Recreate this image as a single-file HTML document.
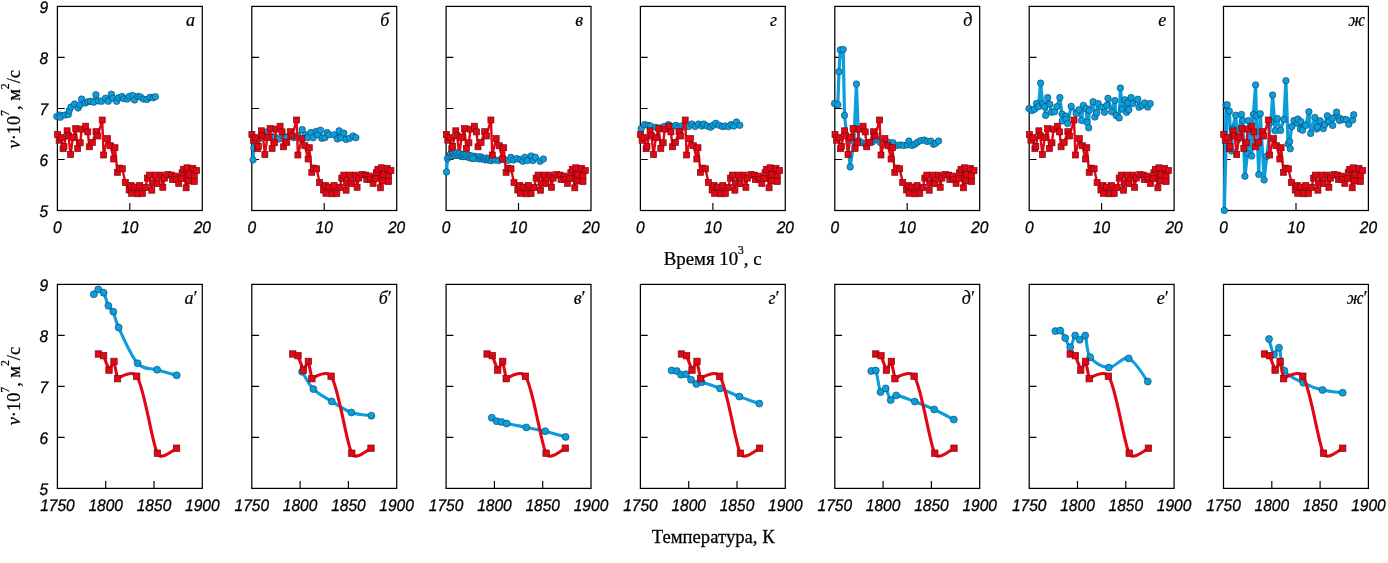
<!DOCTYPE html>
<html lang="ru"><head><meta charset="utf-8"><title>Chart</title>
<style>
html,body{margin:0;padding:0;background:#fff}
body{width:1388px;height:563px;overflow:hidden}
svg{display:block}
svg{will-change:transform}
.t{font-family:"Liberation Sans",sans-serif;font-style:italic;font-size:16.8px;fill:#000;stroke:#000;stroke-width:.3px;text-rendering:geometricPrecision}
.p{font-family:"Liberation Serif",serif;font-style:italic;font-size:18px;fill:#000;stroke:#000;stroke-width:.22px}
.a{font-family:"Liberation Serif",serif;font-size:19.7px;fill:#000;stroke:#000;stroke-width:.25px}
.y{font-family:"Liberation Serif",serif;font-size:18px;fill:#000;stroke:#000;stroke-width:.25px}
</style></head><body>
<svg width="1388" height="563" viewBox="0 0 1388 563">
<rect width="1388" height="563" fill="#fff"/>
<g><rect x="57.4" y="6.4" width="144.9" height="204.1" fill="none" stroke="#000" stroke-width="1.25"/><path d="M57.4,57.4h7.3M57.4,108.5h7.3M57.4,159.5h7.3M129.8,210.5v-7.5" stroke="#000" stroke-width="1.15" fill="none"/><polyline fill="none" stroke="#0c9edc" stroke-width="3.2" stroke-linejoin="round" points="56.8,116.4 59.9,115.1 60.3,117.3 64.8,115.1 68.3,114.6 69.2,110.6 71,107.1 74.5,104 78.1,108 79.9,104.9 81.6,99.1 85.2,103.1 87.9,101.8 90.5,101.3 93.6,102.2 95.9,94.7 98.5,100.9 101.6,101.3 105.6,98.2 108.3,101.3 111.4,94.2 112.7,98.2 116.7,101.3 118.5,97.8 122,96.4 123.8,98.7 127.4,99.1 129.2,96.4 132.7,95.5 134.5,100 138,96.4 140.3,96.9 143.4,99.1 146.9,99.5 150,97.3 153.1,97.8 155.4,96.7"/><g fill="#0c9edc" stroke="#06425f" stroke-width="0.6"><circle cx="56.8" cy="116.4" r="3.25"/><circle cx="59.9" cy="115.1" r="3.25"/><circle cx="60.3" cy="117.3" r="3.25"/><circle cx="64.8" cy="115.1" r="3.25"/><circle cx="68.3" cy="114.6" r="3.25"/><circle cx="69.2" cy="110.6" r="3.25"/><circle cx="71" cy="107.1" r="3.25"/><circle cx="74.5" cy="104" r="3.25"/><circle cx="78.1" cy="108" r="3.25"/><circle cx="79.9" cy="104.9" r="3.25"/><circle cx="81.6" cy="99.1" r="3.25"/><circle cx="85.2" cy="103.1" r="3.25"/><circle cx="87.9" cy="101.8" r="3.25"/><circle cx="90.5" cy="101.3" r="3.25"/><circle cx="93.6" cy="102.2" r="3.25"/><circle cx="95.9" cy="94.7" r="3.25"/><circle cx="98.5" cy="100.9" r="3.25"/><circle cx="101.6" cy="101.3" r="3.25"/><circle cx="105.6" cy="98.2" r="3.25"/><circle cx="108.3" cy="101.3" r="3.25"/><circle cx="111.4" cy="94.2" r="3.25"/><circle cx="112.7" cy="98.2" r="3.25"/><circle cx="116.7" cy="101.3" r="3.25"/><circle cx="118.5" cy="97.8" r="3.25"/><circle cx="122" cy="96.4" r="3.25"/><circle cx="123.8" cy="98.7" r="3.25"/><circle cx="127.4" cy="99.1" r="3.25"/><circle cx="129.2" cy="96.4" r="3.25"/><circle cx="132.7" cy="95.5" r="3.25"/><circle cx="134.5" cy="100" r="3.25"/><circle cx="138" cy="96.4" r="3.25"/><circle cx="140.3" cy="96.9" r="3.25"/><circle cx="143.4" cy="99.1" r="3.25"/><circle cx="146.9" cy="99.5" r="3.25"/><circle cx="150" cy="97.3" r="3.25"/><circle cx="153.1" cy="97.8" r="3.25"/><circle cx="155.4" cy="96.7" r="3.25"/></g><polyline fill="none" stroke="#e30613" stroke-width="2.4" stroke-linejoin="round" points="57.6,134.4 59.1,140.2 61.3,137.5 63.1,148.7 64,146.4 67.1,130.8 68.4,135.7 70.6,154.6 72.9,137.5 75.7,128.6 77.7,148.4 80.2,142.8 81.7,129.1 85.7,126.2 87.8,131.9 89.3,146.8 92.4,142.4 96,131.7 97.7,136 102.2,120 103.6,155 107.5,138.6 110.5,145.7 113.7,159 115,147.7 117.4,172.3 119.3,168.1 122.3,168.8 125.3,182.5 129.1,190 131.1,185.5 131.6,193.3 134.4,187 137.7,193.8 139.7,185.5 142.4,193.5 145.4,187.5 147.4,178.1 149.4,175.1 151.8,190.2 152.3,182.9 155.3,175.1 157.2,183.6 161.1,175.1 162.8,187.3 164.5,178.1 168,174.6 171.4,175.1 172.4,179.5 175.3,176.1 176.3,179.5 178.7,183.4 181.1,178.5 182.1,172.7 183.6,169.3 186.1,187.8 187,167.8 188.5,181 189,174.6 192.9,168.3 194.3,181.5 194.3,175.6 196.6,170.5"/><g fill="#e30613" stroke="#7a0a10" stroke-width="0.7"><rect x="54.6" y="131.4" width="6.0" height="6.0"/><rect x="56.1" y="137.2" width="6.0" height="6.0"/><rect x="58.3" y="134.5" width="6.0" height="6.0"/><rect x="60.1" y="145.7" width="6.0" height="6.0"/><rect x="61" y="143.4" width="6.0" height="6.0"/><rect x="64.1" y="127.8" width="6.0" height="6.0"/><rect x="65.4" y="132.7" width="6.0" height="6.0"/><rect x="67.6" y="151.6" width="6.0" height="6.0"/><rect x="69.9" y="134.5" width="6.0" height="6.0"/><rect x="72.7" y="125.6" width="6.0" height="6.0"/><rect x="74.7" y="145.4" width="6.0" height="6.0"/><rect x="77.2" y="139.8" width="6.0" height="6.0"/><rect x="78.7" y="126.1" width="6.0" height="6.0"/><rect x="82.7" y="123.2" width="6.0" height="6.0"/><rect x="84.8" y="128.9" width="6.0" height="6.0"/><rect x="86.3" y="143.8" width="6.0" height="6.0"/><rect x="89.4" y="139.4" width="6.0" height="6.0"/><rect x="93" y="128.7" width="6.0" height="6.0"/><rect x="94.7" y="133" width="6.0" height="6.0"/><rect x="99.2" y="117" width="6.0" height="6.0"/><rect x="100.6" y="152" width="6.0" height="6.0"/><rect x="104.5" y="135.6" width="6.0" height="6.0"/><rect x="107.5" y="142.7" width="6.0" height="6.0"/><rect x="110.7" y="156" width="6.0" height="6.0"/><rect x="112" y="144.7" width="6.0" height="6.0"/><rect x="114.4" y="169.3" width="6.0" height="6.0"/><rect x="116.3" y="165.1" width="6.0" height="6.0"/><rect x="119.3" y="165.8" width="6.0" height="6.0"/><rect x="122.3" y="179.5" width="6.0" height="6.0"/><rect x="126.1" y="187" width="6.0" height="6.0"/><rect x="128.1" y="182.5" width="6.0" height="6.0"/><rect x="128.6" y="190.3" width="6.0" height="6.0"/><rect x="131.4" y="184" width="6.0" height="6.0"/><rect x="134.7" y="190.8" width="6.0" height="6.0"/><rect x="136.7" y="182.5" width="6.0" height="6.0"/><rect x="139.4" y="190.5" width="6.0" height="6.0"/><rect x="142.4" y="184.5" width="6.0" height="6.0"/><rect x="144.4" y="175.1" width="6.0" height="6.0"/><rect x="146.4" y="172.1" width="6.0" height="6.0"/><rect x="148.8" y="187.2" width="6.0" height="6.0"/><rect x="149.3" y="179.9" width="6.0" height="6.0"/><rect x="152.3" y="172.1" width="6.0" height="6.0"/><rect x="154.2" y="180.6" width="6.0" height="6.0"/><rect x="158.1" y="172.1" width="6.0" height="6.0"/><rect x="159.8" y="184.3" width="6.0" height="6.0"/><rect x="161.5" y="175.1" width="6.0" height="6.0"/><rect x="165" y="171.6" width="6.0" height="6.0"/><rect x="168.4" y="172.1" width="6.0" height="6.0"/><rect x="169.4" y="176.5" width="6.0" height="6.0"/><rect x="172.3" y="173.1" width="6.0" height="6.0"/><rect x="173.3" y="176.5" width="6.0" height="6.0"/><rect x="175.7" y="180.4" width="6.0" height="6.0"/><rect x="178.1" y="175.5" width="6.0" height="6.0"/><rect x="179.1" y="169.7" width="6.0" height="6.0"/><rect x="180.6" y="166.3" width="6.0" height="6.0"/><rect x="183.1" y="184.8" width="6.0" height="6.0"/><rect x="184" y="164.8" width="6.0" height="6.0"/><rect x="185.5" y="178" width="6.0" height="6.0"/><rect x="186" y="171.6" width="6.0" height="6.0"/><rect x="189.9" y="165.3" width="6.0" height="6.0"/><rect x="191.3" y="178.5" width="6.0" height="6.0"/><rect x="191.3" y="172.6" width="6.0" height="6.0"/><rect x="193.6" y="167.5" width="6.0" height="6.0"/></g><text class="t" transform="translate(57.4,233.3) scale(0.925,1)" text-anchor="middle">0</text><text class="t" transform="translate(129.8,233.3) scale(0.925,1)" text-anchor="middle">10</text><text class="t" transform="translate(202.3,233.3) scale(0.925,1)" text-anchor="middle">20</text><text class="p" x="190.4" y="26.2" text-anchor="middle">а</text></g>
<g><rect x="57.4" y="284.4" width="144.9" height="204" fill="none" stroke="#000" stroke-width="1.25"/><path d="M57.4,335.4h7.3M57.4,386.4h7.3M57.4,437.4h7.3M105.7,488.4v-7.5M154,488.4v-7.5" stroke="#000" stroke-width="1.15" fill="none"/><path fill="none" stroke="#0c9edc" stroke-width="3.1" stroke-linecap="round" d="M93.8,294.3C94.5,293.5 96.7,289.7 98.3,289.4C99.9,289.1 101.9,290 103.6,292.7C105.3,295.4 106.8,302.6 108.4,305.8C110,309 111.6,308.1 113.3,311.7C115,315.3 114.5,318.9 118.6,327.5C122.6,336.1 131.2,356.3 137.6,363.3C144,370.3 150.6,367.7 157.1,369.7C163.6,371.7 173.4,374.4 176.7,375.3"/><g fill="#0c9edc" stroke="#06425f" stroke-width="0.6"><circle cx="93.8" cy="294.3" r="3.5"/><circle cx="98.3" cy="289.4" r="3.5"/><circle cx="103.6" cy="292.7" r="3.5"/><circle cx="108.4" cy="305.8" r="3.5"/><circle cx="113.3" cy="311.7" r="3.5"/><circle cx="118.6" cy="327.5" r="3.5"/><circle cx="137.6" cy="363.3" r="3.5"/><circle cx="157.1" cy="369.7" r="3.5"/><circle cx="176.7" cy="375.3" r="3.5"/></g><path fill="none" stroke="#e30613" stroke-width="3.1" stroke-linejoin="round" stroke-linecap="round" d="M98.4,354L103.6,355.7L109,370.1L114,361.4L117.5,378.7C125.4,373.5 133.9,371.3 136.7,376.2C143.9,385 152.9,447 157.4,453.2C159.9,459.5 167.4,454.5 176.6,448.2"/><g fill="#e30613" stroke="#7a0a10" stroke-width="0.7"><rect x="95.2" y="350.8" width="6.4" height="6.4"/><rect x="100.4" y="352.5" width="6.4" height="6.4"/><rect x="105.8" y="366.9" width="6.4" height="6.4"/><rect x="110.8" y="358.2" width="6.4" height="6.4"/><rect x="114.3" y="375.5" width="6.4" height="6.4"/><rect x="133.5" y="373" width="6.4" height="6.4"/><rect x="154.2" y="450" width="6.4" height="6.4"/><rect x="173.4" y="445" width="6.4" height="6.4"/></g><text class="t" transform="translate(57.4,510.9) scale(0.925,1)" text-anchor="middle">1750</text><text class="t" transform="translate(105.7,510.9) scale(0.925,1)" text-anchor="middle">1800</text><text class="t" transform="translate(154,510.9) scale(0.925,1)" text-anchor="middle">1850</text><text class="t" transform="translate(202.3,510.9) scale(0.925,1)" text-anchor="middle">1900</text><text class="p" x="190.4" y="304.2" text-anchor="middle">а<tspan dx="-1">′</tspan></text></g>
<g><rect x="251.8" y="6.4" width="144.9" height="204.1" fill="none" stroke="#000" stroke-width="1.25"/><path d="M251.8,57.4h7.3M251.8,108.5h7.3M251.8,159.5h7.3M324.2,210.5v-7.5" stroke="#000" stroke-width="1.15" fill="none"/><polyline fill="none" stroke="#0c9edc" stroke-width="3.2" stroke-linejoin="round" points="253.1,159.9 253.8,148 255.9,142 258.9,139 261.9,137 266.9,132 270.9,136 274.9,137 279.1,138.9 282.9,136 286.9,137 290.9,136 293.9,137.7 297.9,136 302.2,129.6 305.6,134.8 307.4,137.7 310.9,132.5 313.2,137.7 316.1,131.4 317.8,134.8 320.4,130.2 321.8,138.3 324.8,137.7 327.1,132.5 328.8,134.8 333.9,134.8 337.4,138.9 339.1,130.8 340.9,137.7 343.8,133.1 346.1,139.5 349.6,138.3 353.1,136 355.9,137.7"/><g fill="#0c9edc" stroke="#06425f" stroke-width="0.6"><circle cx="253.1" cy="159.9" r="3.25"/><circle cx="253.8" cy="148" r="3.25"/><circle cx="255.9" cy="142" r="3.25"/><circle cx="258.9" cy="139" r="3.25"/><circle cx="261.9" cy="137" r="3.25"/><circle cx="266.9" cy="132" r="3.25"/><circle cx="270.9" cy="136" r="3.25"/><circle cx="274.9" cy="137" r="3.25"/><circle cx="279.1" cy="138.9" r="3.25"/><circle cx="282.9" cy="136" r="3.25"/><circle cx="286.9" cy="137" r="3.25"/><circle cx="290.9" cy="136" r="3.25"/><circle cx="293.9" cy="137.7" r="3.25"/><circle cx="297.9" cy="136" r="3.25"/><circle cx="302.2" cy="129.6" r="3.25"/><circle cx="305.6" cy="134.8" r="3.25"/><circle cx="307.4" cy="137.7" r="3.25"/><circle cx="310.9" cy="132.5" r="3.25"/><circle cx="313.2" cy="137.7" r="3.25"/><circle cx="316.1" cy="131.4" r="3.25"/><circle cx="317.8" cy="134.8" r="3.25"/><circle cx="320.4" cy="130.2" r="3.25"/><circle cx="321.8" cy="138.3" r="3.25"/><circle cx="324.8" cy="137.7" r="3.25"/><circle cx="327.1" cy="132.5" r="3.25"/><circle cx="328.8" cy="134.8" r="3.25"/><circle cx="333.9" cy="134.8" r="3.25"/><circle cx="337.4" cy="138.9" r="3.25"/><circle cx="339.1" cy="130.8" r="3.25"/><circle cx="340.9" cy="137.7" r="3.25"/><circle cx="343.8" cy="133.1" r="3.25"/><circle cx="346.1" cy="139.5" r="3.25"/><circle cx="349.6" cy="138.3" r="3.25"/><circle cx="353.1" cy="136" r="3.25"/><circle cx="355.9" cy="137.7" r="3.25"/></g><polyline fill="none" stroke="#e30613" stroke-width="2.4" stroke-linejoin="round" points="251.9,134.4 253.4,140.2 255.6,137.5 257.4,148.7 258.3,146.4 261.4,130.8 262.8,135.7 264.9,154.6 267.2,137.5 270.1,128.6 272.1,148.4 274.6,142.8 276.1,129.1 280.1,126.2 282.1,131.9 283.6,146.8 286.8,142.4 290.3,131.7 292.1,136 296.6,120 297.9,155 301.8,138.6 304.8,145.7 308.1,159 309.3,147.7 311.8,172.3 313.6,168.1 316.6,168.8 319.6,182.5 323.4,190 325.4,185.5 325.9,193.3 328.8,187 332.1,193.8 334.1,185.5 336.8,193.5 339.8,187.5 341.8,178.1 343.8,175.1 346.1,190.2 346.6,182.9 349.6,175.1 351.6,183.6 355.4,175.1 357.1,187.3 358.8,178.1 362.3,174.6 365.8,175.1 366.8,179.5 369.6,176.1 370.6,179.5 373.1,183.4 375.4,178.5 376.4,172.7 377.9,169.3 380.4,187.8 381.3,167.8 382.8,181 383.3,174.6 387.2,168.3 388.6,181.5 388.6,175.6 390.9,170.5"/><g fill="#e30613" stroke="#7a0a10" stroke-width="0.7"><rect x="248.9" y="131.4" width="6.0" height="6.0"/><rect x="250.4" y="137.2" width="6.0" height="6.0"/><rect x="252.6" y="134.5" width="6.0" height="6.0"/><rect x="254.4" y="145.7" width="6.0" height="6.0"/><rect x="255.3" y="143.4" width="6.0" height="6.0"/><rect x="258.4" y="127.8" width="6.0" height="6.0"/><rect x="259.8" y="132.7" width="6.0" height="6.0"/><rect x="261.9" y="151.6" width="6.0" height="6.0"/><rect x="264.2" y="134.5" width="6.0" height="6.0"/><rect x="267.1" y="125.6" width="6.0" height="6.0"/><rect x="269.1" y="145.4" width="6.0" height="6.0"/><rect x="271.6" y="139.8" width="6.0" height="6.0"/><rect x="273.1" y="126.1" width="6.0" height="6.0"/><rect x="277.1" y="123.2" width="6.0" height="6.0"/><rect x="279.1" y="128.9" width="6.0" height="6.0"/><rect x="280.6" y="143.8" width="6.0" height="6.0"/><rect x="283.8" y="139.4" width="6.0" height="6.0"/><rect x="287.3" y="128.7" width="6.0" height="6.0"/><rect x="289.1" y="133" width="6.0" height="6.0"/><rect x="293.6" y="117" width="6.0" height="6.0"/><rect x="294.9" y="152" width="6.0" height="6.0"/><rect x="298.8" y="135.6" width="6.0" height="6.0"/><rect x="301.8" y="142.7" width="6.0" height="6.0"/><rect x="305.1" y="156" width="6.0" height="6.0"/><rect x="306.3" y="144.7" width="6.0" height="6.0"/><rect x="308.8" y="169.3" width="6.0" height="6.0"/><rect x="310.6" y="165.1" width="6.0" height="6.0"/><rect x="313.6" y="165.8" width="6.0" height="6.0"/><rect x="316.6" y="179.5" width="6.0" height="6.0"/><rect x="320.4" y="187" width="6.0" height="6.0"/><rect x="322.4" y="182.5" width="6.0" height="6.0"/><rect x="322.9" y="190.3" width="6.0" height="6.0"/><rect x="325.8" y="184" width="6.0" height="6.0"/><rect x="329.1" y="190.8" width="6.0" height="6.0"/><rect x="331.1" y="182.5" width="6.0" height="6.0"/><rect x="333.8" y="190.5" width="6.0" height="6.0"/><rect x="336.8" y="184.5" width="6.0" height="6.0"/><rect x="338.8" y="175.1" width="6.0" height="6.0"/><rect x="340.8" y="172.1" width="6.0" height="6.0"/><rect x="343.1" y="187.2" width="6.0" height="6.0"/><rect x="343.6" y="179.9" width="6.0" height="6.0"/><rect x="346.6" y="172.1" width="6.0" height="6.0"/><rect x="348.6" y="180.6" width="6.0" height="6.0"/><rect x="352.4" y="172.1" width="6.0" height="6.0"/><rect x="354.1" y="184.3" width="6.0" height="6.0"/><rect x="355.8" y="175.1" width="6.0" height="6.0"/><rect x="359.3" y="171.6" width="6.0" height="6.0"/><rect x="362.8" y="172.1" width="6.0" height="6.0"/><rect x="363.8" y="176.5" width="6.0" height="6.0"/><rect x="366.6" y="173.1" width="6.0" height="6.0"/><rect x="367.6" y="176.5" width="6.0" height="6.0"/><rect x="370.1" y="180.4" width="6.0" height="6.0"/><rect x="372.4" y="175.5" width="6.0" height="6.0"/><rect x="373.4" y="169.7" width="6.0" height="6.0"/><rect x="374.9" y="166.3" width="6.0" height="6.0"/><rect x="377.4" y="184.8" width="6.0" height="6.0"/><rect x="378.3" y="164.8" width="6.0" height="6.0"/><rect x="379.8" y="178" width="6.0" height="6.0"/><rect x="380.3" y="171.6" width="6.0" height="6.0"/><rect x="384.2" y="165.3" width="6.0" height="6.0"/><rect x="385.6" y="178.5" width="6.0" height="6.0"/><rect x="385.6" y="172.6" width="6.0" height="6.0"/><rect x="387.9" y="167.5" width="6.0" height="6.0"/></g><text class="t" transform="translate(251.8,233.3) scale(0.925,1)" text-anchor="middle">0</text><text class="t" transform="translate(324.2,233.3) scale(0.925,1)" text-anchor="middle">10</text><text class="t" transform="translate(396.6,233.3) scale(0.925,1)" text-anchor="middle">20</text><text class="p" x="384.8" y="26.2" text-anchor="middle">б</text></g>
<g><rect x="251.8" y="284.4" width="144.9" height="204" fill="none" stroke="#000" stroke-width="1.25"/><path d="M251.8,335.4h7.3M251.8,386.4h7.3M251.8,437.4h7.3M300.1,488.4v-7.5M348.4,488.4v-7.5" stroke="#000" stroke-width="1.15" fill="none"/><path fill="none" stroke="#0c9edc" stroke-width="3.1" stroke-linecap="round" d="M302.1,371.7C304,374.6 308.4,384.1 313.4,389.1C318.3,394.1 325.4,397.6 331.8,401.5C338.1,405.4 344.8,410.1 351.4,412.5C358.1,414.9 368,415.2 371.4,415.7"/><g fill="#0c9edc" stroke="#06425f" stroke-width="0.6"><circle cx="302.1" cy="371.7" r="3.5"/><circle cx="313.4" cy="389.1" r="3.5"/><circle cx="331.8" cy="401.5" r="3.5"/><circle cx="351.4" cy="412.5" r="3.5"/><circle cx="371.4" cy="415.7" r="3.5"/></g><path fill="none" stroke="#e30613" stroke-width="3.1" stroke-linejoin="round" stroke-linecap="round" d="M292.8,354L297.9,355.7L303.4,370.1L308.4,361.4L311.9,378.7C319.8,373.5 328.2,371.3 331.1,376.2C338.2,385 347.2,447 351.8,453.2C354.2,459.5 361.8,454.5 370.9,448.2"/><g fill="#e30613" stroke="#7a0a10" stroke-width="0.7"><rect x="289.6" y="350.8" width="6.4" height="6.4"/><rect x="294.8" y="352.5" width="6.4" height="6.4"/><rect x="300.2" y="366.9" width="6.4" height="6.4"/><rect x="305.2" y="358.2" width="6.4" height="6.4"/><rect x="308.7" y="375.5" width="6.4" height="6.4"/><rect x="327.9" y="373" width="6.4" height="6.4"/><rect x="348.6" y="450" width="6.4" height="6.4"/><rect x="367.8" y="445" width="6.4" height="6.4"/></g><text class="t" transform="translate(251.8,510.9) scale(0.925,1)" text-anchor="middle">1750</text><text class="t" transform="translate(300.1,510.9) scale(0.925,1)" text-anchor="middle">1800</text><text class="t" transform="translate(348.4,510.9) scale(0.925,1)" text-anchor="middle">1850</text><text class="t" transform="translate(396.6,510.9) scale(0.925,1)" text-anchor="middle">1900</text><text class="p" x="384.8" y="304.2" text-anchor="middle">б<tspan dx="-1">′</tspan></text></g>
<g><rect x="446.1" y="6.4" width="144.9" height="204.1" fill="none" stroke="#000" stroke-width="1.25"/><path d="M446.1,57.4h7.3M446.1,108.5h7.3M446.1,159.5h7.3M518.5,210.5v-7.5" stroke="#000" stroke-width="1.15" fill="none"/><polyline fill="none" stroke="#0c9edc" stroke-width="3.2" stroke-linejoin="round" points="446.5,171.9 447.5,158.6 449,156.4 450.5,154.1 452,156 453.5,153.9 455,155.4 456.5,152.9 458,155.1 459.5,153.6 461,156.2 462.5,154.8 464,156.6 465.5,154.7 467,156.7 468.5,155.4 470,157.8 471.5,156.1 473,158.4 474.5,156.3 476,158 477.5,156.9 479,158.9 480.5,156.8 482,158.9 483.5,158.2 485,159.9 486.5,158 488,159.9 489.5,158.7 491,160.7 492.5,158.8 495.5,160 498.8,160.6 502.1,158.6 504.8,160 508.1,160.3 510.8,157.3 513.5,160 516.8,158.6 520.2,159.5 522.8,161.3 524.8,157.3 527.4,160.6 531.2,156 532.8,160.6 535.4,157.3 540.1,161.3 543.4,159"/><g fill="#0c9edc" stroke="#06425f" stroke-width="0.6"><circle cx="446.5" cy="171.9" r="3.25"/><circle cx="447.5" cy="158.6" r="3.25"/><circle cx="449" cy="156.4" r="3.25"/><circle cx="450.5" cy="154.1" r="3.25"/><circle cx="452" cy="156" r="3.25"/><circle cx="453.5" cy="153.9" r="3.25"/><circle cx="455" cy="155.4" r="3.25"/><circle cx="456.5" cy="152.9" r="3.25"/><circle cx="458" cy="155.1" r="3.25"/><circle cx="459.5" cy="153.6" r="3.25"/><circle cx="461" cy="156.2" r="3.25"/><circle cx="462.5" cy="154.8" r="3.25"/><circle cx="464" cy="156.6" r="3.25"/><circle cx="465.5" cy="154.7" r="3.25"/><circle cx="467" cy="156.7" r="3.25"/><circle cx="468.5" cy="155.4" r="3.25"/><circle cx="470" cy="157.8" r="3.25"/><circle cx="471.5" cy="156.1" r="3.25"/><circle cx="473" cy="158.4" r="3.25"/><circle cx="474.5" cy="156.3" r="3.25"/><circle cx="476" cy="158" r="3.25"/><circle cx="477.5" cy="156.9" r="3.25"/><circle cx="479" cy="158.9" r="3.25"/><circle cx="480.5" cy="156.8" r="3.25"/><circle cx="482" cy="158.9" r="3.25"/><circle cx="483.5" cy="158.2" r="3.25"/><circle cx="485" cy="159.9" r="3.25"/><circle cx="486.5" cy="158" r="3.25"/><circle cx="488" cy="159.9" r="3.25"/><circle cx="489.5" cy="158.7" r="3.25"/><circle cx="491" cy="160.7" r="3.25"/><circle cx="492.5" cy="158.8" r="3.25"/><circle cx="495.5" cy="160" r="3.25"/><circle cx="498.8" cy="160.6" r="3.25"/><circle cx="502.1" cy="158.6" r="3.25"/><circle cx="504.8" cy="160" r="3.25"/><circle cx="508.1" cy="160.3" r="3.25"/><circle cx="510.8" cy="157.3" r="3.25"/><circle cx="513.5" cy="160" r="3.25"/><circle cx="516.8" cy="158.6" r="3.25"/><circle cx="520.2" cy="159.5" r="3.25"/><circle cx="522.8" cy="161.3" r="3.25"/><circle cx="524.8" cy="157.3" r="3.25"/><circle cx="527.4" cy="160.6" r="3.25"/><circle cx="531.2" cy="156" r="3.25"/><circle cx="532.8" cy="160.6" r="3.25"/><circle cx="535.4" cy="157.3" r="3.25"/><circle cx="540.1" cy="161.3" r="3.25"/><circle cx="543.4" cy="159" r="3.25"/></g><polyline fill="none" stroke="#e30613" stroke-width="2.4" stroke-linejoin="round" points="446.3,134.4 447.8,140.2 450,137.5 451.8,148.7 452.7,146.4 455.8,130.8 457.1,135.7 459.3,154.6 461.6,137.5 464.4,128.6 466.4,148.4 468.9,142.8 470.4,129.1 474.4,126.2 476.5,131.9 478,146.8 481.1,142.4 484.7,131.7 486.4,136 490.9,120 492.3,155 496.2,138.6 499.2,145.7 502.4,159 503.7,147.7 506.1,172.3 508,168.1 511,168.8 514,182.5 517.8,190 519.8,185.5 520.3,193.3 523.1,187 526.4,193.8 528.4,185.5 531.1,193.5 534.1,187.5 536.1,178.1 538.1,175.1 540.5,190.2 541,182.9 544,175.1 545.9,183.6 549.8,175.1 551.5,187.3 553.2,178.1 556.7,174.6 560.1,175.1 561.1,179.5 564,176.1 565,179.5 567.4,183.4 569.8,178.5 570.8,172.7 572.3,169.3 574.8,187.8 575.7,167.8 577.2,181 577.7,174.6 581.6,168.3 583,181.5 583,175.6 585.3,170.5"/><g fill="#e30613" stroke="#7a0a10" stroke-width="0.7"><rect x="443.3" y="131.4" width="6.0" height="6.0"/><rect x="444.8" y="137.2" width="6.0" height="6.0"/><rect x="447" y="134.5" width="6.0" height="6.0"/><rect x="448.8" y="145.7" width="6.0" height="6.0"/><rect x="449.7" y="143.4" width="6.0" height="6.0"/><rect x="452.8" y="127.8" width="6.0" height="6.0"/><rect x="454.1" y="132.7" width="6.0" height="6.0"/><rect x="456.3" y="151.6" width="6.0" height="6.0"/><rect x="458.6" y="134.5" width="6.0" height="6.0"/><rect x="461.4" y="125.6" width="6.0" height="6.0"/><rect x="463.4" y="145.4" width="6.0" height="6.0"/><rect x="465.9" y="139.8" width="6.0" height="6.0"/><rect x="467.4" y="126.1" width="6.0" height="6.0"/><rect x="471.4" y="123.2" width="6.0" height="6.0"/><rect x="473.5" y="128.9" width="6.0" height="6.0"/><rect x="475" y="143.8" width="6.0" height="6.0"/><rect x="478.1" y="139.4" width="6.0" height="6.0"/><rect x="481.7" y="128.7" width="6.0" height="6.0"/><rect x="483.4" y="133" width="6.0" height="6.0"/><rect x="487.9" y="117" width="6.0" height="6.0"/><rect x="489.3" y="152" width="6.0" height="6.0"/><rect x="493.2" y="135.6" width="6.0" height="6.0"/><rect x="496.2" y="142.7" width="6.0" height="6.0"/><rect x="499.4" y="156" width="6.0" height="6.0"/><rect x="500.7" y="144.7" width="6.0" height="6.0"/><rect x="503.1" y="169.3" width="6.0" height="6.0"/><rect x="505" y="165.1" width="6.0" height="6.0"/><rect x="508" y="165.8" width="6.0" height="6.0"/><rect x="511" y="179.5" width="6.0" height="6.0"/><rect x="514.8" y="187" width="6.0" height="6.0"/><rect x="516.8" y="182.5" width="6.0" height="6.0"/><rect x="517.3" y="190.3" width="6.0" height="6.0"/><rect x="520.1" y="184" width="6.0" height="6.0"/><rect x="523.4" y="190.8" width="6.0" height="6.0"/><rect x="525.4" y="182.5" width="6.0" height="6.0"/><rect x="528.1" y="190.5" width="6.0" height="6.0"/><rect x="531.1" y="184.5" width="6.0" height="6.0"/><rect x="533.1" y="175.1" width="6.0" height="6.0"/><rect x="535.1" y="172.1" width="6.0" height="6.0"/><rect x="537.5" y="187.2" width="6.0" height="6.0"/><rect x="538" y="179.9" width="6.0" height="6.0"/><rect x="541" y="172.1" width="6.0" height="6.0"/><rect x="542.9" y="180.6" width="6.0" height="6.0"/><rect x="546.8" y="172.1" width="6.0" height="6.0"/><rect x="548.5" y="184.3" width="6.0" height="6.0"/><rect x="550.2" y="175.1" width="6.0" height="6.0"/><rect x="553.7" y="171.6" width="6.0" height="6.0"/><rect x="557.1" y="172.1" width="6.0" height="6.0"/><rect x="558.1" y="176.5" width="6.0" height="6.0"/><rect x="561" y="173.1" width="6.0" height="6.0"/><rect x="562" y="176.5" width="6.0" height="6.0"/><rect x="564.4" y="180.4" width="6.0" height="6.0"/><rect x="566.8" y="175.5" width="6.0" height="6.0"/><rect x="567.8" y="169.7" width="6.0" height="6.0"/><rect x="569.3" y="166.3" width="6.0" height="6.0"/><rect x="571.8" y="184.8" width="6.0" height="6.0"/><rect x="572.7" y="164.8" width="6.0" height="6.0"/><rect x="574.2" y="178" width="6.0" height="6.0"/><rect x="574.7" y="171.6" width="6.0" height="6.0"/><rect x="578.6" y="165.3" width="6.0" height="6.0"/><rect x="580" y="178.5" width="6.0" height="6.0"/><rect x="580" y="172.6" width="6.0" height="6.0"/><rect x="582.3" y="167.5" width="6.0" height="6.0"/></g><g fill="#0c9edc" stroke="#06425f" stroke-width="0.6"><circle cx="453.5" cy="153.9" r="3.25"/><circle cx="455" cy="155.4" r="3.25"/><circle cx="456.5" cy="152.9" r="3.25"/><circle cx="458" cy="155.1" r="3.25"/><circle cx="459.5" cy="153.6" r="3.25"/><circle cx="461" cy="156.2" r="3.25"/><circle cx="462.5" cy="154.8" r="3.25"/><circle cx="464" cy="156.6" r="3.25"/><circle cx="465.5" cy="154.7" r="3.25"/><circle cx="467" cy="156.7" r="3.25"/><circle cx="468.5" cy="155.4" r="3.25"/><circle cx="470" cy="157.8" r="3.25"/><circle cx="471.5" cy="156.1" r="3.25"/><circle cx="473" cy="158.4" r="3.25"/></g><text class="t" transform="translate(446.1,233.3) scale(0.925,1)" text-anchor="middle">0</text><text class="t" transform="translate(518.5,233.3) scale(0.925,1)" text-anchor="middle">10</text><text class="t" transform="translate(591,233.3) scale(0.925,1)" text-anchor="middle">20</text><text class="p" x="579.1" y="26.2" text-anchor="middle">в</text></g>
<g><rect x="446.1" y="284.4" width="144.9" height="204" fill="none" stroke="#000" stroke-width="1.25"/><path d="M446.1,335.4h7.3M446.1,386.4h7.3M446.1,437.4h7.3M494.4,488.4v-7.5M542.7,488.4v-7.5" stroke="#000" stroke-width="1.15" fill="none"/><path fill="none" stroke="#0c9edc" stroke-width="3.1" stroke-linecap="round" d="M491.8,417.7C492.6,418.3 495.1,420.5 496.7,421.2C498.3,421.9 499.8,421.6 501.5,422C503.2,422.4 502.6,422.6 506.7,423.5C510.8,424.4 519.9,426.1 526.3,427.4C532.7,428.7 538.6,429.6 545.2,431.2C551.7,432.8 562.2,435.9 565.6,436.9"/><g fill="#0c9edc" stroke="#06425f" stroke-width="0.6"><circle cx="491.8" cy="417.7" r="3.5"/><circle cx="496.7" cy="421.2" r="3.5"/><circle cx="501.5" cy="422" r="3.5"/><circle cx="506.7" cy="423.5" r="3.5"/><circle cx="526.3" cy="427.4" r="3.5"/><circle cx="545.2" cy="431.2" r="3.5"/><circle cx="565.6" cy="436.9" r="3.5"/></g><path fill="none" stroke="#e30613" stroke-width="3.1" stroke-linejoin="round" stroke-linecap="round" d="M487.1,354L492.3,355.7L497.7,370.1L502.7,361.4L506.2,378.7C514.1,373.5 522.6,371.3 525.4,376.2C532.6,385 541.6,447 546.1,453.2C548.6,459.5 556.1,454.5 565.3,448.2"/><g fill="#e30613" stroke="#7a0a10" stroke-width="0.7"><rect x="483.9" y="350.8" width="6.4" height="6.4"/><rect x="489.1" y="352.5" width="6.4" height="6.4"/><rect x="494.5" y="366.9" width="6.4" height="6.4"/><rect x="499.5" y="358.2" width="6.4" height="6.4"/><rect x="503" y="375.5" width="6.4" height="6.4"/><rect x="522.2" y="373" width="6.4" height="6.4"/><rect x="542.9" y="450" width="6.4" height="6.4"/><rect x="562.1" y="445" width="6.4" height="6.4"/></g><text class="t" transform="translate(446.1,510.9) scale(0.925,1)" text-anchor="middle">1750</text><text class="t" transform="translate(494.4,510.9) scale(0.925,1)" text-anchor="middle">1800</text><text class="t" transform="translate(542.7,510.9) scale(0.925,1)" text-anchor="middle">1850</text><text class="t" transform="translate(591,510.9) scale(0.925,1)" text-anchor="middle">1900</text><text class="p" x="579.1" y="304.2" text-anchor="middle">в<tspan dx="-1">′</tspan></text></g>
<g><rect x="640.4" y="6.4" width="144.9" height="204.1" fill="none" stroke="#000" stroke-width="1.25"/><path d="M640.4,57.4h7.3M640.4,108.5h7.3M640.4,159.5h7.3M712.9,210.5v-7.5" stroke="#000" stroke-width="1.15" fill="none"/><polyline fill="none" stroke="#0c9edc" stroke-width="3.2" stroke-linejoin="round" points="641.2,128.6 644.6,124.6 647.9,125.3 650.6,126 655.9,127.3 659.9,128 663.9,126.5 668.5,124.6 671.9,126.5 675.9,125.3 678.5,127.3 681.9,126 684.9,127 688.5,126.6 691.8,124 695.2,126.6 698.5,124 701.8,126 703.8,124 707.2,126 710.5,127.3 713.2,125.3 715.8,123.3 719.1,125.3 722.5,126.6 725.1,126 728.5,126.6 731.1,124.6 733.8,126 736.5,122 739.8,125.3"/><g fill="#0c9edc" stroke="#06425f" stroke-width="0.6"><circle cx="641.2" cy="128.6" r="3.25"/><circle cx="644.6" cy="124.6" r="3.25"/><circle cx="647.9" cy="125.3" r="3.25"/><circle cx="650.6" cy="126" r="3.25"/><circle cx="655.9" cy="127.3" r="3.25"/><circle cx="659.9" cy="128" r="3.25"/><circle cx="663.9" cy="126.5" r="3.25"/><circle cx="668.5" cy="124.6" r="3.25"/><circle cx="671.9" cy="126.5" r="3.25"/><circle cx="675.9" cy="125.3" r="3.25"/><circle cx="678.5" cy="127.3" r="3.25"/><circle cx="681.9" cy="126" r="3.25"/><circle cx="684.9" cy="127" r="3.25"/><circle cx="688.5" cy="126.6" r="3.25"/><circle cx="691.8" cy="124" r="3.25"/><circle cx="695.2" cy="126.6" r="3.25"/><circle cx="698.5" cy="124" r="3.25"/><circle cx="701.8" cy="126" r="3.25"/><circle cx="703.8" cy="124" r="3.25"/><circle cx="707.2" cy="126" r="3.25"/><circle cx="710.5" cy="127.3" r="3.25"/><circle cx="713.2" cy="125.3" r="3.25"/><circle cx="715.8" cy="123.3" r="3.25"/><circle cx="719.1" cy="125.3" r="3.25"/><circle cx="722.5" cy="126.6" r="3.25"/><circle cx="725.1" cy="126" r="3.25"/><circle cx="728.5" cy="126.6" r="3.25"/><circle cx="731.1" cy="124.6" r="3.25"/><circle cx="733.8" cy="126" r="3.25"/><circle cx="736.5" cy="122" r="3.25"/><circle cx="739.8" cy="125.3" r="3.25"/></g><polyline fill="none" stroke="#e30613" stroke-width="2.4" stroke-linejoin="round" points="640.6,134.4 642.1,140.2 644.4,137.5 646.1,148.7 647,146.4 650.1,130.8 651.4,135.7 653.6,154.6 655.9,137.5 658.8,128.6 660.8,148.4 663.2,142.8 664.8,129.1 668.8,126.2 670.9,131.9 672.4,146.8 675.4,142.4 679,131.7 680.8,136 685.2,120 686.6,155 690.5,138.6 693.5,145.7 696.8,159 698,147.7 700.4,172.3 702.4,168.1 705.4,168.8 708.4,182.5 712.1,190 714.1,185.5 714.6,193.3 717.4,187 720.8,193.8 722.8,185.5 725.4,193.5 728.4,187.5 730.4,178.1 732.4,175.1 734.9,190.2 735.4,182.9 738.4,175.1 740.2,183.6 744.1,175.1 745.9,187.3 747.5,178.1 751,174.6 754.4,175.1 755.4,179.5 758.4,176.1 759.4,179.5 761.8,183.4 764.1,178.5 765.1,172.7 766.6,169.3 769.1,187.8 770,167.8 771.5,181 772,174.6 776,168.3 777.3,181.5 777.3,175.6 779.6,170.5"/><g fill="#e30613" stroke="#7a0a10" stroke-width="0.7"><rect x="637.6" y="131.4" width="6.0" height="6.0"/><rect x="639.1" y="137.2" width="6.0" height="6.0"/><rect x="641.4" y="134.5" width="6.0" height="6.0"/><rect x="643.1" y="145.7" width="6.0" height="6.0"/><rect x="644" y="143.4" width="6.0" height="6.0"/><rect x="647.1" y="127.8" width="6.0" height="6.0"/><rect x="648.4" y="132.7" width="6.0" height="6.0"/><rect x="650.6" y="151.6" width="6.0" height="6.0"/><rect x="652.9" y="134.5" width="6.0" height="6.0"/><rect x="655.8" y="125.6" width="6.0" height="6.0"/><rect x="657.8" y="145.4" width="6.0" height="6.0"/><rect x="660.2" y="139.8" width="6.0" height="6.0"/><rect x="661.8" y="126.1" width="6.0" height="6.0"/><rect x="665.8" y="123.2" width="6.0" height="6.0"/><rect x="667.9" y="128.9" width="6.0" height="6.0"/><rect x="669.4" y="143.8" width="6.0" height="6.0"/><rect x="672.4" y="139.4" width="6.0" height="6.0"/><rect x="676" y="128.7" width="6.0" height="6.0"/><rect x="677.8" y="133" width="6.0" height="6.0"/><rect x="682.2" y="117" width="6.0" height="6.0"/><rect x="683.6" y="152" width="6.0" height="6.0"/><rect x="687.5" y="135.6" width="6.0" height="6.0"/><rect x="690.5" y="142.7" width="6.0" height="6.0"/><rect x="693.8" y="156" width="6.0" height="6.0"/><rect x="695" y="144.7" width="6.0" height="6.0"/><rect x="697.4" y="169.3" width="6.0" height="6.0"/><rect x="699.4" y="165.1" width="6.0" height="6.0"/><rect x="702.4" y="165.8" width="6.0" height="6.0"/><rect x="705.4" y="179.5" width="6.0" height="6.0"/><rect x="709.1" y="187" width="6.0" height="6.0"/><rect x="711.1" y="182.5" width="6.0" height="6.0"/><rect x="711.6" y="190.3" width="6.0" height="6.0"/><rect x="714.4" y="184" width="6.0" height="6.0"/><rect x="717.8" y="190.8" width="6.0" height="6.0"/><rect x="719.8" y="182.5" width="6.0" height="6.0"/><rect x="722.4" y="190.5" width="6.0" height="6.0"/><rect x="725.4" y="184.5" width="6.0" height="6.0"/><rect x="727.4" y="175.1" width="6.0" height="6.0"/><rect x="729.4" y="172.1" width="6.0" height="6.0"/><rect x="731.9" y="187.2" width="6.0" height="6.0"/><rect x="732.4" y="179.9" width="6.0" height="6.0"/><rect x="735.4" y="172.1" width="6.0" height="6.0"/><rect x="737.2" y="180.6" width="6.0" height="6.0"/><rect x="741.1" y="172.1" width="6.0" height="6.0"/><rect x="742.9" y="184.3" width="6.0" height="6.0"/><rect x="744.5" y="175.1" width="6.0" height="6.0"/><rect x="748" y="171.6" width="6.0" height="6.0"/><rect x="751.4" y="172.1" width="6.0" height="6.0"/><rect x="752.4" y="176.5" width="6.0" height="6.0"/><rect x="755.4" y="173.1" width="6.0" height="6.0"/><rect x="756.4" y="176.5" width="6.0" height="6.0"/><rect x="758.8" y="180.4" width="6.0" height="6.0"/><rect x="761.1" y="175.5" width="6.0" height="6.0"/><rect x="762.1" y="169.7" width="6.0" height="6.0"/><rect x="763.6" y="166.3" width="6.0" height="6.0"/><rect x="766.1" y="184.8" width="6.0" height="6.0"/><rect x="767" y="164.8" width="6.0" height="6.0"/><rect x="768.5" y="178" width="6.0" height="6.0"/><rect x="769" y="171.6" width="6.0" height="6.0"/><rect x="773" y="165.3" width="6.0" height="6.0"/><rect x="774.3" y="178.5" width="6.0" height="6.0"/><rect x="774.3" y="172.6" width="6.0" height="6.0"/><rect x="776.6" y="167.5" width="6.0" height="6.0"/></g><text class="t" transform="translate(640.4,233.3) scale(0.925,1)" text-anchor="middle">0</text><text class="t" transform="translate(712.9,233.3) scale(0.925,1)" text-anchor="middle">10</text><text class="t" transform="translate(785.3,233.3) scale(0.925,1)" text-anchor="middle">20</text><text class="p" x="773.4" y="26.2" text-anchor="middle">г</text></g>
<g><rect x="640.4" y="284.4" width="144.9" height="204" fill="none" stroke="#000" stroke-width="1.25"/><path d="M640.4,335.4h7.3M640.4,386.4h7.3M640.4,437.4h7.3M688.7,488.4v-7.5M737,488.4v-7.5" stroke="#000" stroke-width="1.15" fill="none"/><path fill="none" stroke="#0c9edc" stroke-width="3.1" stroke-linecap="round" d="M671.6,370.5C672.5,370.6 675.3,370.3 676.8,371C678.4,371.7 679.5,374.2 681,374.7C682.6,375.2 684.4,373.4 686,374.2C687.7,375 689.3,378.1 691,379.7C692.8,381.3 694.7,383.5 696.4,383.9C698.2,384.3 697.8,381.4 701.7,382.2C705.7,382.9 713.9,386 720.1,388.4C726.4,390.8 732.9,394.1 739.4,396.6C746,399.1 756,402.4 759.3,403.6"/><g fill="#0c9edc" stroke="#06425f" stroke-width="0.6"><circle cx="671.6" cy="370.5" r="3.5"/><circle cx="676.8" cy="371" r="3.5"/><circle cx="681" cy="374.7" r="3.5"/><circle cx="686" cy="374.2" r="3.5"/><circle cx="691" cy="379.7" r="3.5"/><circle cx="696.4" cy="383.9" r="3.5"/><circle cx="701.7" cy="382.2" r="3.5"/><circle cx="720.1" cy="388.4" r="3.5"/><circle cx="739.4" cy="396.6" r="3.5"/><circle cx="759.3" cy="403.6" r="3.5"/></g><path fill="none" stroke="#e30613" stroke-width="3.1" stroke-linejoin="round" stroke-linecap="round" d="M681.4,354L686.6,355.7L692,370.1L697,361.4L700.5,378.7C708.4,373.5 716.9,371.3 719.7,376.2C726.9,385 735.9,447 740.4,453.2C742.9,459.5 750.4,454.5 759.6,448.2"/><g fill="#e30613" stroke="#7a0a10" stroke-width="0.7"><rect x="678.2" y="350.8" width="6.4" height="6.4"/><rect x="683.4" y="352.5" width="6.4" height="6.4"/><rect x="688.8" y="366.9" width="6.4" height="6.4"/><rect x="693.8" y="358.2" width="6.4" height="6.4"/><rect x="697.3" y="375.5" width="6.4" height="6.4"/><rect x="716.5" y="373" width="6.4" height="6.4"/><rect x="737.2" y="450" width="6.4" height="6.4"/><rect x="756.4" y="445" width="6.4" height="6.4"/></g><text class="t" transform="translate(640.4,510.9) scale(0.925,1)" text-anchor="middle">1750</text><text class="t" transform="translate(688.7,510.9) scale(0.925,1)" text-anchor="middle">1800</text><text class="t" transform="translate(737,510.9) scale(0.925,1)" text-anchor="middle">1850</text><text class="t" transform="translate(785.3,510.9) scale(0.925,1)" text-anchor="middle">1900</text><text class="p" x="773.4" y="304.2" text-anchor="middle">г<tspan dx="-1">′</tspan></text></g>
<g><rect x="834.8" y="6.4" width="144.9" height="204.1" fill="none" stroke="#000" stroke-width="1.25"/><path d="M834.8,57.4h7.3M834.8,108.5h7.3M834.8,159.5h7.3M907.2,210.5v-7.5" stroke="#000" stroke-width="1.15" fill="none"/><polyline fill="none" stroke="#0c9edc" stroke-width="3.2" stroke-linejoin="round" points="834.5,103.5 837.8,104.7 839,71.8 840.3,49.9 843.2,49.4 844.5,115.4 850.2,166.9 853.9,141.5 856.4,84 858.6,140.5 862,142.7 865.3,144 868.8,142.5 872.7,141.7 877,139.5 880.3,142.5 884.3,143.5 888.3,142.2 892.9,142.7 897.2,145.4 900.4,144.9 903.6,145.4 907.3,144.9 908.9,141.1 912.1,145.4 914.8,144.3 917.5,142.2 920.7,140.6 924.4,140.1 927.1,141.4 930.8,141.1 933.5,144.3 935.6,143.3 938.6,141.1"/><g fill="#0c9edc" stroke="#06425f" stroke-width="0.6"><circle cx="834.5" cy="103.5" r="3.25"/><circle cx="837.8" cy="104.7" r="3.25"/><circle cx="839" cy="71.8" r="3.25"/><circle cx="840.3" cy="49.9" r="3.25"/><circle cx="843.2" cy="49.4" r="3.25"/><circle cx="844.5" cy="115.4" r="3.25"/><circle cx="850.2" cy="166.9" r="3.25"/><circle cx="853.9" cy="141.5" r="3.25"/><circle cx="856.4" cy="84" r="3.25"/><circle cx="858.6" cy="140.5" r="3.25"/><circle cx="862" cy="142.7" r="3.25"/><circle cx="865.3" cy="144" r="3.25"/><circle cx="868.8" cy="142.5" r="3.25"/><circle cx="872.7" cy="141.7" r="3.25"/><circle cx="877" cy="139.5" r="3.25"/><circle cx="880.3" cy="142.5" r="3.25"/><circle cx="884.3" cy="143.5" r="3.25"/><circle cx="888.3" cy="142.2" r="3.25"/><circle cx="892.9" cy="142.7" r="3.25"/><circle cx="897.2" cy="145.4" r="3.25"/><circle cx="900.4" cy="144.9" r="3.25"/><circle cx="903.6" cy="145.4" r="3.25"/><circle cx="907.3" cy="144.9" r="3.25"/><circle cx="908.9" cy="141.1" r="3.25"/><circle cx="912.1" cy="145.4" r="3.25"/><circle cx="914.8" cy="144.3" r="3.25"/><circle cx="917.5" cy="142.2" r="3.25"/><circle cx="920.7" cy="140.6" r="3.25"/><circle cx="924.4" cy="140.1" r="3.25"/><circle cx="927.1" cy="141.4" r="3.25"/><circle cx="930.8" cy="141.1" r="3.25"/><circle cx="933.5" cy="144.3" r="3.25"/><circle cx="935.6" cy="143.3" r="3.25"/><circle cx="938.6" cy="141.1" r="3.25"/></g><polyline fill="none" stroke="#e30613" stroke-width="2.4" stroke-linejoin="round" points="835,134.4 836.5,140.2 838.7,137.5 840.5,148.7 841.4,146.4 844.5,130.8 845.8,135.7 848,154.6 850.3,137.5 853.1,128.6 855.1,148.4 857.6,142.8 859.1,129.1 863.1,126.2 865.2,131.9 866.7,146.8 869.8,142.4 873.4,131.7 875.1,136 879.6,120 881,155 884.9,138.6 887.9,145.7 891.1,159 892.4,147.7 894.8,172.3 896.7,168.1 899.7,168.8 902.7,182.5 906.5,190 908.5,185.5 909,193.3 911.8,187 915.1,193.8 917.1,185.5 919.8,193.5 922.8,187.5 924.8,178.1 926.8,175.1 929.2,190.2 929.7,182.9 932.7,175.1 934.6,183.6 938.5,175.1 940.2,187.3 941.9,178.1 945.4,174.6 948.8,175.1 949.8,179.5 952.7,176.1 953.7,179.5 956.1,183.4 958.5,178.5 959.5,172.7 961,169.3 963.5,187.8 964.4,167.8 965.9,181 966.4,174.6 970.3,168.3 971.7,181.5 971.7,175.6 974,170.5"/><g fill="#e30613" stroke="#7a0a10" stroke-width="0.7"><rect x="832" y="131.4" width="6.0" height="6.0"/><rect x="833.5" y="137.2" width="6.0" height="6.0"/><rect x="835.7" y="134.5" width="6.0" height="6.0"/><rect x="837.5" y="145.7" width="6.0" height="6.0"/><rect x="838.4" y="143.4" width="6.0" height="6.0"/><rect x="841.5" y="127.8" width="6.0" height="6.0"/><rect x="842.8" y="132.7" width="6.0" height="6.0"/><rect x="845" y="151.6" width="6.0" height="6.0"/><rect x="847.3" y="134.5" width="6.0" height="6.0"/><rect x="850.1" y="125.6" width="6.0" height="6.0"/><rect x="852.1" y="145.4" width="6.0" height="6.0"/><rect x="854.6" y="139.8" width="6.0" height="6.0"/><rect x="856.1" y="126.1" width="6.0" height="6.0"/><rect x="860.1" y="123.2" width="6.0" height="6.0"/><rect x="862.2" y="128.9" width="6.0" height="6.0"/><rect x="863.7" y="143.8" width="6.0" height="6.0"/><rect x="866.8" y="139.4" width="6.0" height="6.0"/><rect x="870.4" y="128.7" width="6.0" height="6.0"/><rect x="872.1" y="133" width="6.0" height="6.0"/><rect x="876.6" y="117" width="6.0" height="6.0"/><rect x="878" y="152" width="6.0" height="6.0"/><rect x="881.9" y="135.6" width="6.0" height="6.0"/><rect x="884.9" y="142.7" width="6.0" height="6.0"/><rect x="888.1" y="156" width="6.0" height="6.0"/><rect x="889.4" y="144.7" width="6.0" height="6.0"/><rect x="891.8" y="169.3" width="6.0" height="6.0"/><rect x="893.7" y="165.1" width="6.0" height="6.0"/><rect x="896.7" y="165.8" width="6.0" height="6.0"/><rect x="899.7" y="179.5" width="6.0" height="6.0"/><rect x="903.5" y="187" width="6.0" height="6.0"/><rect x="905.5" y="182.5" width="6.0" height="6.0"/><rect x="906" y="190.3" width="6.0" height="6.0"/><rect x="908.8" y="184" width="6.0" height="6.0"/><rect x="912.1" y="190.8" width="6.0" height="6.0"/><rect x="914.1" y="182.5" width="6.0" height="6.0"/><rect x="916.8" y="190.5" width="6.0" height="6.0"/><rect x="919.8" y="184.5" width="6.0" height="6.0"/><rect x="921.8" y="175.1" width="6.0" height="6.0"/><rect x="923.8" y="172.1" width="6.0" height="6.0"/><rect x="926.2" y="187.2" width="6.0" height="6.0"/><rect x="926.7" y="179.9" width="6.0" height="6.0"/><rect x="929.7" y="172.1" width="6.0" height="6.0"/><rect x="931.6" y="180.6" width="6.0" height="6.0"/><rect x="935.5" y="172.1" width="6.0" height="6.0"/><rect x="937.2" y="184.3" width="6.0" height="6.0"/><rect x="938.9" y="175.1" width="6.0" height="6.0"/><rect x="942.4" y="171.6" width="6.0" height="6.0"/><rect x="945.8" y="172.1" width="6.0" height="6.0"/><rect x="946.8" y="176.5" width="6.0" height="6.0"/><rect x="949.7" y="173.1" width="6.0" height="6.0"/><rect x="950.7" y="176.5" width="6.0" height="6.0"/><rect x="953.1" y="180.4" width="6.0" height="6.0"/><rect x="955.5" y="175.5" width="6.0" height="6.0"/><rect x="956.5" y="169.7" width="6.0" height="6.0"/><rect x="958" y="166.3" width="6.0" height="6.0"/><rect x="960.5" y="184.8" width="6.0" height="6.0"/><rect x="961.4" y="164.8" width="6.0" height="6.0"/><rect x="962.9" y="178" width="6.0" height="6.0"/><rect x="963.4" y="171.6" width="6.0" height="6.0"/><rect x="967.3" y="165.3" width="6.0" height="6.0"/><rect x="968.7" y="178.5" width="6.0" height="6.0"/><rect x="968.7" y="172.6" width="6.0" height="6.0"/><rect x="971" y="167.5" width="6.0" height="6.0"/></g><text class="t" transform="translate(834.8,233.3) scale(0.925,1)" text-anchor="middle">0</text><text class="t" transform="translate(907.2,233.3) scale(0.925,1)" text-anchor="middle">10</text><text class="t" transform="translate(979.7,233.3) scale(0.925,1)" text-anchor="middle">20</text><text class="p" x="967.8" y="26.2" text-anchor="middle">д</text></g>
<g><rect x="834.8" y="284.4" width="144.9" height="204" fill="none" stroke="#000" stroke-width="1.25"/><path d="M834.8,335.4h7.3M834.8,386.4h7.3M834.8,437.4h7.3M883.1,488.4v-7.5M931.4,488.4v-7.5" stroke="#000" stroke-width="1.15" fill="none"/><path fill="none" stroke="#0c9edc" stroke-width="3.1" stroke-linecap="round" d="M871.3,371C872,370.9 874.3,367 875.8,370.5C877.3,374 878.9,389.1 880.5,392.1C882.1,395.1 884,387.1 885.7,388.4C887.4,389.7 888.9,398.9 890.7,400.1C892.4,401.3 892.2,395.1 896.2,395.4C900.2,395.6 908.5,399.2 914.8,401.6C921.1,404 927.7,406.5 934.2,409.5C940.7,412.5 950.5,417.8 953.8,419.5"/><g fill="#0c9edc" stroke="#06425f" stroke-width="0.6"><circle cx="871.3" cy="371" r="3.5"/><circle cx="875.8" cy="370.5" r="3.5"/><circle cx="880.5" cy="392.1" r="3.5"/><circle cx="885.7" cy="388.4" r="3.5"/><circle cx="890.7" cy="400.1" r="3.5"/><circle cx="896.2" cy="395.4" r="3.5"/><circle cx="914.8" cy="401.6" r="3.5"/><circle cx="934.2" cy="409.5" r="3.5"/><circle cx="953.8" cy="419.5" r="3.5"/></g><path fill="none" stroke="#e30613" stroke-width="3.1" stroke-linejoin="round" stroke-linecap="round" d="M875.8,354L881,355.7L886.4,370.1L891.4,361.4L894.9,378.7C902.8,373.5 911.3,371.3 914.1,376.2C921.3,385 930.3,447 934.8,453.2C937.3,459.5 944.8,454.5 954,448.2"/><g fill="#e30613" stroke="#7a0a10" stroke-width="0.7"><rect x="872.6" y="350.8" width="6.4" height="6.4"/><rect x="877.8" y="352.5" width="6.4" height="6.4"/><rect x="883.2" y="366.9" width="6.4" height="6.4"/><rect x="888.2" y="358.2" width="6.4" height="6.4"/><rect x="891.7" y="375.5" width="6.4" height="6.4"/><rect x="910.9" y="373" width="6.4" height="6.4"/><rect x="931.6" y="450" width="6.4" height="6.4"/><rect x="950.8" y="445" width="6.4" height="6.4"/></g><text class="t" transform="translate(834.8,510.9) scale(0.925,1)" text-anchor="middle">1750</text><text class="t" transform="translate(883.1,510.9) scale(0.925,1)" text-anchor="middle">1800</text><text class="t" transform="translate(931.4,510.9) scale(0.925,1)" text-anchor="middle">1850</text><text class="t" transform="translate(979.7,510.9) scale(0.925,1)" text-anchor="middle">1900</text><text class="p" x="967.8" y="304.2" text-anchor="middle">д<tspan dx="-1">′</tspan></text></g>
<g><rect x="1029.2" y="6.4" width="144.9" height="204.1" fill="none" stroke="#000" stroke-width="1.25"/><path d="M1029.2,57.4h7.3M1029.2,108.5h7.3M1029.2,159.5h7.3M1101.6,210.5v-7.5" stroke="#000" stroke-width="1.15" fill="none"/><polyline fill="none" stroke="#0c9edc" stroke-width="3.2" stroke-linejoin="round" points="1029,108.5 1032.1,110.4 1034.6,109.2 1036.5,103.6 1038.4,106.7 1040.6,83.1 1042.7,103.6 1044.6,106.7 1045.6,115.4 1047.7,97.6 1049.8,104.2 1051.4,112.3 1054.5,111.7 1056.8,106.7 1059.9,97.6 1062,114.1 1062.2,121 1065.7,116 1066.2,119.1 1067.6,123.5 1071.2,106.3 1076.2,113.5 1078.8,109.8 1081.6,120.4 1083.4,105.4 1086.2,108.5 1086.9,122.2 1088.7,127.8 1089.2,110.4 1093.1,101.7 1094.9,117 1096.8,112.9 1098.2,103.6 1101.8,107.3 1104.5,112.3 1106.7,105.4 1108,98.3 1111.7,111.7 1114.8,100.5 1116.1,115.4 1119.2,117.9 1120.4,88 1122.2,109.2 1124.8,99.8 1126.6,112.3 1127.9,102.9 1128.9,109.8 1131,97.6 1132.9,103.6 1137.8,99.2 1139.1,107.3 1142.2,105.4 1144.7,102.9 1147.8,107.1 1150.2,103.6"/><g fill="#0c9edc" stroke="#06425f" stroke-width="0.6"><circle cx="1029" cy="108.5" r="3.25"/><circle cx="1032.1" cy="110.4" r="3.25"/><circle cx="1034.6" cy="109.2" r="3.25"/><circle cx="1036.5" cy="103.6" r="3.25"/><circle cx="1038.4" cy="106.7" r="3.25"/><circle cx="1040.6" cy="83.1" r="3.25"/><circle cx="1042.7" cy="103.6" r="3.25"/><circle cx="1044.6" cy="106.7" r="3.25"/><circle cx="1045.6" cy="115.4" r="3.25"/><circle cx="1047.7" cy="97.6" r="3.25"/><circle cx="1049.8" cy="104.2" r="3.25"/><circle cx="1051.4" cy="112.3" r="3.25"/><circle cx="1054.5" cy="111.7" r="3.25"/><circle cx="1056.8" cy="106.7" r="3.25"/><circle cx="1059.9" cy="97.6" r="3.25"/><circle cx="1062" cy="114.1" r="3.25"/><circle cx="1062.2" cy="121" r="3.25"/><circle cx="1065.7" cy="116" r="3.25"/><circle cx="1066.2" cy="119.1" r="3.25"/><circle cx="1067.6" cy="123.5" r="3.25"/><circle cx="1071.2" cy="106.3" r="3.25"/><circle cx="1076.2" cy="113.5" r="3.25"/><circle cx="1078.8" cy="109.8" r="3.25"/><circle cx="1081.6" cy="120.4" r="3.25"/><circle cx="1083.4" cy="105.4" r="3.25"/><circle cx="1086.2" cy="108.5" r="3.25"/><circle cx="1086.9" cy="122.2" r="3.25"/><circle cx="1088.7" cy="127.8" r="3.25"/><circle cx="1089.2" cy="110.4" r="3.25"/><circle cx="1093.1" cy="101.7" r="3.25"/><circle cx="1094.9" cy="117" r="3.25"/><circle cx="1096.8" cy="112.9" r="3.25"/><circle cx="1098.2" cy="103.6" r="3.25"/><circle cx="1101.8" cy="107.3" r="3.25"/><circle cx="1104.5" cy="112.3" r="3.25"/><circle cx="1106.7" cy="105.4" r="3.25"/><circle cx="1108" cy="98.3" r="3.25"/><circle cx="1111.7" cy="111.7" r="3.25"/><circle cx="1114.8" cy="100.5" r="3.25"/><circle cx="1116.1" cy="115.4" r="3.25"/><circle cx="1119.2" cy="117.9" r="3.25"/><circle cx="1120.4" cy="88" r="3.25"/><circle cx="1122.2" cy="109.2" r="3.25"/><circle cx="1124.8" cy="99.8" r="3.25"/><circle cx="1126.6" cy="112.3" r="3.25"/><circle cx="1127.9" cy="102.9" r="3.25"/><circle cx="1128.9" cy="109.8" r="3.25"/><circle cx="1131" cy="97.6" r="3.25"/><circle cx="1132.9" cy="103.6" r="3.25"/><circle cx="1137.8" cy="99.2" r="3.25"/><circle cx="1139.1" cy="107.3" r="3.25"/><circle cx="1142.2" cy="105.4" r="3.25"/><circle cx="1144.7" cy="102.9" r="3.25"/><circle cx="1147.8" cy="107.1" r="3.25"/><circle cx="1150.2" cy="103.6" r="3.25"/></g><polyline fill="none" stroke="#e30613" stroke-width="2.4" stroke-linejoin="round" points="1029.4,134.4 1030.9,140.2 1033.1,137.5 1034.9,148.7 1035.8,146.4 1038.9,130.8 1040.2,135.7 1042.4,154.6 1044.7,137.5 1047.5,128.6 1049.5,148.4 1052,142.8 1053.5,129.1 1057.5,126.2 1059.6,131.9 1061.1,146.8 1064.2,142.4 1067.8,131.7 1069.5,136 1074,120 1075.4,155 1079.3,138.6 1082.3,145.7 1085.5,159 1086.8,147.7 1089.2,172.3 1091.1,168.1 1094.1,168.8 1097.1,182.5 1100.9,190 1102.9,185.5 1103.4,193.3 1106.2,187 1109.5,193.8 1111.5,185.5 1114.2,193.5 1117.2,187.5 1119.2,178.1 1121.2,175.1 1123.6,190.2 1124.1,182.9 1127.1,175.1 1129,183.6 1132.9,175.1 1134.6,187.3 1136.3,178.1 1139.8,174.6 1143.2,175.1 1144.2,179.5 1147.1,176.1 1148.1,179.5 1150.5,183.4 1152.9,178.5 1153.9,172.7 1155.4,169.3 1157.9,187.8 1158.8,167.8 1160.3,181 1160.8,174.6 1164.7,168.3 1166.1,181.5 1166.1,175.6 1168.4,170.5"/><g fill="#e30613" stroke="#7a0a10" stroke-width="0.7"><rect x="1026.4" y="131.4" width="6.0" height="6.0"/><rect x="1027.9" y="137.2" width="6.0" height="6.0"/><rect x="1030.1" y="134.5" width="6.0" height="6.0"/><rect x="1031.9" y="145.7" width="6.0" height="6.0"/><rect x="1032.8" y="143.4" width="6.0" height="6.0"/><rect x="1035.9" y="127.8" width="6.0" height="6.0"/><rect x="1037.2" y="132.7" width="6.0" height="6.0"/><rect x="1039.4" y="151.6" width="6.0" height="6.0"/><rect x="1041.7" y="134.5" width="6.0" height="6.0"/><rect x="1044.5" y="125.6" width="6.0" height="6.0"/><rect x="1046.5" y="145.4" width="6.0" height="6.0"/><rect x="1049" y="139.8" width="6.0" height="6.0"/><rect x="1050.5" y="126.1" width="6.0" height="6.0"/><rect x="1054.5" y="123.2" width="6.0" height="6.0"/><rect x="1056.6" y="128.9" width="6.0" height="6.0"/><rect x="1058.1" y="143.8" width="6.0" height="6.0"/><rect x="1061.2" y="139.4" width="6.0" height="6.0"/><rect x="1064.8" y="128.7" width="6.0" height="6.0"/><rect x="1066.5" y="133" width="6.0" height="6.0"/><rect x="1071" y="117" width="6.0" height="6.0"/><rect x="1072.4" y="152" width="6.0" height="6.0"/><rect x="1076.3" y="135.6" width="6.0" height="6.0"/><rect x="1079.3" y="142.7" width="6.0" height="6.0"/><rect x="1082.5" y="156" width="6.0" height="6.0"/><rect x="1083.8" y="144.7" width="6.0" height="6.0"/><rect x="1086.2" y="169.3" width="6.0" height="6.0"/><rect x="1088.1" y="165.1" width="6.0" height="6.0"/><rect x="1091.1" y="165.8" width="6.0" height="6.0"/><rect x="1094.1" y="179.5" width="6.0" height="6.0"/><rect x="1097.9" y="187" width="6.0" height="6.0"/><rect x="1099.9" y="182.5" width="6.0" height="6.0"/><rect x="1100.4" y="190.3" width="6.0" height="6.0"/><rect x="1103.2" y="184" width="6.0" height="6.0"/><rect x="1106.5" y="190.8" width="6.0" height="6.0"/><rect x="1108.5" y="182.5" width="6.0" height="6.0"/><rect x="1111.2" y="190.5" width="6.0" height="6.0"/><rect x="1114.2" y="184.5" width="6.0" height="6.0"/><rect x="1116.2" y="175.1" width="6.0" height="6.0"/><rect x="1118.2" y="172.1" width="6.0" height="6.0"/><rect x="1120.6" y="187.2" width="6.0" height="6.0"/><rect x="1121.1" y="179.9" width="6.0" height="6.0"/><rect x="1124.1" y="172.1" width="6.0" height="6.0"/><rect x="1126" y="180.6" width="6.0" height="6.0"/><rect x="1129.9" y="172.1" width="6.0" height="6.0"/><rect x="1131.6" y="184.3" width="6.0" height="6.0"/><rect x="1133.3" y="175.1" width="6.0" height="6.0"/><rect x="1136.8" y="171.6" width="6.0" height="6.0"/><rect x="1140.2" y="172.1" width="6.0" height="6.0"/><rect x="1141.2" y="176.5" width="6.0" height="6.0"/><rect x="1144.1" y="173.1" width="6.0" height="6.0"/><rect x="1145.1" y="176.5" width="6.0" height="6.0"/><rect x="1147.5" y="180.4" width="6.0" height="6.0"/><rect x="1149.9" y="175.5" width="6.0" height="6.0"/><rect x="1150.9" y="169.7" width="6.0" height="6.0"/><rect x="1152.4" y="166.3" width="6.0" height="6.0"/><rect x="1154.9" y="184.8" width="6.0" height="6.0"/><rect x="1155.8" y="164.8" width="6.0" height="6.0"/><rect x="1157.3" y="178" width="6.0" height="6.0"/><rect x="1157.8" y="171.6" width="6.0" height="6.0"/><rect x="1161.7" y="165.3" width="6.0" height="6.0"/><rect x="1163.1" y="178.5" width="6.0" height="6.0"/><rect x="1163.1" y="172.6" width="6.0" height="6.0"/><rect x="1165.4" y="167.5" width="6.0" height="6.0"/></g><text class="t" transform="translate(1029.2,233.3) scale(0.925,1)" text-anchor="middle">0</text><text class="t" transform="translate(1101.6,233.3) scale(0.925,1)" text-anchor="middle">10</text><text class="t" transform="translate(1174.1,233.3) scale(0.925,1)" text-anchor="middle">20</text><text class="p" x="1162.2" y="26.2" text-anchor="middle">е</text></g>
<g><rect x="1029.2" y="284.4" width="144.9" height="204" fill="none" stroke="#000" stroke-width="1.25"/><path d="M1029.2,335.4h7.3M1029.2,386.4h7.3M1029.2,437.4h7.3M1077.5,488.4v-7.5M1125.8,488.4v-7.5" stroke="#000" stroke-width="1.15" fill="none"/><path fill="none" stroke="#0c9edc" stroke-width="3.1" stroke-linecap="round" d="M1055.4,331.1C1056.2,331 1058.6,329.5 1060.2,330.6C1061.9,331.8 1063.6,335.2 1065.2,338C1066.9,340.8 1068.6,347.6 1070.2,347.2C1071.9,346.8 1073.6,336.7 1075.2,335.5C1076.7,334.3 1078,339.8 1079.7,339.8C1081.3,339.8 1083.4,332.6 1085.2,335.5C1086.9,338.4 1086.2,351.8 1090.2,357.2C1094.1,362.6 1102.3,367.4 1108.8,367.6C1115.2,367.8 1122.2,356.1 1128.7,358.4C1135.2,360.7 1144.6,377.6 1147.8,381.5"/><g fill="#0c9edc" stroke="#06425f" stroke-width="0.6"><circle cx="1055.4" cy="331.1" r="3.5"/><circle cx="1060.2" cy="330.6" r="3.5"/><circle cx="1065.2" cy="338" r="3.5"/><circle cx="1070.2" cy="347.2" r="3.5"/><circle cx="1075.2" cy="335.5" r="3.5"/><circle cx="1079.7" cy="339.8" r="3.5"/><circle cx="1085.2" cy="335.5" r="3.5"/><circle cx="1090.2" cy="357.2" r="3.5"/><circle cx="1108.8" cy="367.6" r="3.5"/><circle cx="1128.7" cy="358.4" r="3.5"/><circle cx="1147.8" cy="381.5" r="3.5"/></g><path fill="none" stroke="#e30613" stroke-width="3.1" stroke-linejoin="round" stroke-linecap="round" d="M1070.2,354L1075.4,355.7L1080.8,370.1L1085.8,361.4L1089.2,378.7C1097.2,373.5 1105.7,371.3 1108.5,376.2C1115.7,385 1124.7,447 1129.2,453.2C1131.7,459.5 1139.2,454.5 1148.4,448.2"/><g fill="#e30613" stroke="#7a0a10" stroke-width="0.7"><rect x="1067" y="350.8" width="6.4" height="6.4"/><rect x="1072.2" y="352.5" width="6.4" height="6.4"/><rect x="1077.5" y="366.9" width="6.4" height="6.4"/><rect x="1082.5" y="358.2" width="6.4" height="6.4"/><rect x="1086" y="375.5" width="6.4" height="6.4"/><rect x="1105.2" y="373" width="6.4" height="6.4"/><rect x="1126" y="450" width="6.4" height="6.4"/><rect x="1145.2" y="445" width="6.4" height="6.4"/></g><text class="t" transform="translate(1029.2,510.9) scale(0.925,1)" text-anchor="middle">1750</text><text class="t" transform="translate(1077.5,510.9) scale(0.925,1)" text-anchor="middle">1800</text><text class="t" transform="translate(1125.8,510.9) scale(0.925,1)" text-anchor="middle">1850</text><text class="t" transform="translate(1174.1,510.9) scale(0.925,1)" text-anchor="middle">1900</text><text class="p" x="1162.2" y="304.2" text-anchor="middle">е<tspan dx="-1">′</tspan></text></g>
<g><rect x="1223.5" y="6.4" width="144.9" height="204.1" fill="none" stroke="#000" stroke-width="1.25"/><path d="M1223.5,57.4h7.3M1223.5,108.5h7.3M1223.5,159.5h7.3M1296,210.5v-7.5" stroke="#000" stroke-width="1.15" fill="none"/><polyline fill="none" stroke="#0c9edc" stroke-width="3.2" stroke-linejoin="round" points="1226,105.2 1224.3,210.4 1227.2,104.8 1229.3,111.2 1231.5,151 1232.5,128.7 1235.7,115.2 1237.6,140 1241.5,114.4 1242.8,120.6 1244.9,176.2 1247.5,153.2 1248.5,120.6 1251.7,156 1253.4,114.4 1255.6,84.9 1256.4,115.9 1258.8,174.5 1260.3,113.7 1264.1,179.9 1266.7,156.4 1270.9,122.3 1272.6,95 1275.2,130.8 1277.3,118.6 1280.5,130.4 1283.9,119.5 1285.9,80.7 1288.1,144 1290.3,148.8 1289.7,141.4 1291.9,126.5 1294,120.6 1297.2,123.3 1297.9,119 1300.4,129.1 1300.9,121.7 1302.5,130.2 1305.7,125.4 1308.9,111.8 1310.7,133.4 1314.8,117.4 1316.7,129.1 1317.5,127 1320.1,120.8 1323.3,128.6 1324.9,124.6 1327.3,115.8 1328.9,121.7 1332.7,125.4 1332.6,118.2 1336.6,112.1 1339.3,117.9 1339.5,120.6 1343.6,119.5 1346.3,119.7 1348.7,124.3 1352.6,120.1 1353.7,114.7"/><g fill="#0c9edc" stroke="#06425f" stroke-width="0.6"><circle cx="1226" cy="105.2" r="3.25"/><circle cx="1224.3" cy="210.4" r="3.25"/><circle cx="1227.2" cy="104.8" r="3.25"/><circle cx="1229.3" cy="111.2" r="3.25"/><circle cx="1231.5" cy="151" r="3.25"/><circle cx="1232.5" cy="128.7" r="3.25"/><circle cx="1235.7" cy="115.2" r="3.25"/><circle cx="1237.6" cy="140" r="3.25"/><circle cx="1241.5" cy="114.4" r="3.25"/><circle cx="1242.8" cy="120.6" r="3.25"/><circle cx="1244.9" cy="176.2" r="3.25"/><circle cx="1247.5" cy="153.2" r="3.25"/><circle cx="1248.5" cy="120.6" r="3.25"/><circle cx="1251.7" cy="156" r="3.25"/><circle cx="1253.4" cy="114.4" r="3.25"/><circle cx="1255.6" cy="84.9" r="3.25"/><circle cx="1256.4" cy="115.9" r="3.25"/><circle cx="1258.8" cy="174.5" r="3.25"/><circle cx="1260.3" cy="113.7" r="3.25"/><circle cx="1264.1" cy="179.9" r="3.25"/><circle cx="1266.7" cy="156.4" r="3.25"/><circle cx="1270.9" cy="122.3" r="3.25"/><circle cx="1272.6" cy="95" r="3.25"/><circle cx="1275.2" cy="130.8" r="3.25"/><circle cx="1277.3" cy="118.6" r="3.25"/><circle cx="1280.5" cy="130.4" r="3.25"/><circle cx="1283.9" cy="119.5" r="3.25"/><circle cx="1285.9" cy="80.7" r="3.25"/><circle cx="1288.1" cy="144" r="3.25"/><circle cx="1290.3" cy="148.8" r="3.25"/><circle cx="1289.7" cy="141.4" r="3.25"/><circle cx="1291.9" cy="126.5" r="3.25"/><circle cx="1294" cy="120.6" r="3.25"/><circle cx="1297.2" cy="123.3" r="3.25"/><circle cx="1297.9" cy="119" r="3.25"/><circle cx="1300.4" cy="129.1" r="3.25"/><circle cx="1300.9" cy="121.7" r="3.25"/><circle cx="1302.5" cy="130.2" r="3.25"/><circle cx="1305.7" cy="125.4" r="3.25"/><circle cx="1308.9" cy="111.8" r="3.25"/><circle cx="1310.7" cy="133.4" r="3.25"/><circle cx="1314.8" cy="117.4" r="3.25"/><circle cx="1316.7" cy="129.1" r="3.25"/><circle cx="1317.5" cy="127" r="3.25"/><circle cx="1320.1" cy="120.8" r="3.25"/><circle cx="1323.3" cy="128.6" r="3.25"/><circle cx="1324.9" cy="124.6" r="3.25"/><circle cx="1327.3" cy="115.8" r="3.25"/><circle cx="1328.9" cy="121.7" r="3.25"/><circle cx="1332.7" cy="125.4" r="3.25"/><circle cx="1332.6" cy="118.2" r="3.25"/><circle cx="1336.6" cy="112.1" r="3.25"/><circle cx="1339.3" cy="117.9" r="3.25"/><circle cx="1339.5" cy="120.6" r="3.25"/><circle cx="1343.6" cy="119.5" r="3.25"/><circle cx="1346.3" cy="119.7" r="3.25"/><circle cx="1348.7" cy="124.3" r="3.25"/><circle cx="1352.6" cy="120.1" r="3.25"/><circle cx="1353.7" cy="114.7" r="3.25"/></g><polyline fill="none" stroke="#e30613" stroke-width="2.4" stroke-linejoin="round" points="1223.7,134.4 1225.2,140.2 1227.4,137.5 1229.2,148.7 1230.1,146.4 1233.2,130.8 1234.5,135.7 1236.7,154.6 1239,137.5 1241.8,128.6 1243.8,148.4 1246.3,142.8 1247.8,129.1 1251.8,126.2 1253.9,131.9 1255.4,146.8 1258.5,142.4 1262.1,131.7 1263.8,136 1268.3,120 1269.7,155 1273.6,138.6 1276.6,145.7 1279.8,159 1281.1,147.7 1283.5,172.3 1285.4,168.1 1288.4,168.8 1291.4,182.5 1295.2,190 1297.2,185.5 1297.7,193.3 1300.5,187 1303.8,193.8 1305.8,185.5 1308.5,193.5 1311.5,187.5 1313.5,178.1 1315.5,175.1 1317.9,190.2 1318.4,182.9 1321.4,175.1 1323.3,183.6 1327.2,175.1 1328.9,187.3 1330.6,178.1 1334.1,174.6 1337.5,175.1 1338.5,179.5 1341.4,176.1 1342.4,179.5 1344.8,183.4 1347.2,178.5 1348.2,172.7 1349.7,169.3 1352.2,187.8 1353.1,167.8 1354.6,181 1355.1,174.6 1359,168.3 1360.4,181.5 1360.4,175.6 1362.7,170.5"/><g fill="#e30613" stroke="#7a0a10" stroke-width="0.7"><rect x="1220.7" y="131.4" width="6.0" height="6.0"/><rect x="1222.2" y="137.2" width="6.0" height="6.0"/><rect x="1224.4" y="134.5" width="6.0" height="6.0"/><rect x="1226.2" y="145.7" width="6.0" height="6.0"/><rect x="1227.1" y="143.4" width="6.0" height="6.0"/><rect x="1230.2" y="127.8" width="6.0" height="6.0"/><rect x="1231.5" y="132.7" width="6.0" height="6.0"/><rect x="1233.7" y="151.6" width="6.0" height="6.0"/><rect x="1236" y="134.5" width="6.0" height="6.0"/><rect x="1238.8" y="125.6" width="6.0" height="6.0"/><rect x="1240.8" y="145.4" width="6.0" height="6.0"/><rect x="1243.3" y="139.8" width="6.0" height="6.0"/><rect x="1244.8" y="126.1" width="6.0" height="6.0"/><rect x="1248.8" y="123.2" width="6.0" height="6.0"/><rect x="1250.9" y="128.9" width="6.0" height="6.0"/><rect x="1252.4" y="143.8" width="6.0" height="6.0"/><rect x="1255.5" y="139.4" width="6.0" height="6.0"/><rect x="1259.1" y="128.7" width="6.0" height="6.0"/><rect x="1260.8" y="133" width="6.0" height="6.0"/><rect x="1265.3" y="117" width="6.0" height="6.0"/><rect x="1266.7" y="152" width="6.0" height="6.0"/><rect x="1270.6" y="135.6" width="6.0" height="6.0"/><rect x="1273.6" y="142.7" width="6.0" height="6.0"/><rect x="1276.8" y="156" width="6.0" height="6.0"/><rect x="1278.1" y="144.7" width="6.0" height="6.0"/><rect x="1280.5" y="169.3" width="6.0" height="6.0"/><rect x="1282.4" y="165.1" width="6.0" height="6.0"/><rect x="1285.4" y="165.8" width="6.0" height="6.0"/><rect x="1288.4" y="179.5" width="6.0" height="6.0"/><rect x="1292.2" y="187" width="6.0" height="6.0"/><rect x="1294.2" y="182.5" width="6.0" height="6.0"/><rect x="1294.7" y="190.3" width="6.0" height="6.0"/><rect x="1297.5" y="184" width="6.0" height="6.0"/><rect x="1300.8" y="190.8" width="6.0" height="6.0"/><rect x="1302.8" y="182.5" width="6.0" height="6.0"/><rect x="1305.5" y="190.5" width="6.0" height="6.0"/><rect x="1308.5" y="184.5" width="6.0" height="6.0"/><rect x="1310.5" y="175.1" width="6.0" height="6.0"/><rect x="1312.5" y="172.1" width="6.0" height="6.0"/><rect x="1314.9" y="187.2" width="6.0" height="6.0"/><rect x="1315.4" y="179.9" width="6.0" height="6.0"/><rect x="1318.4" y="172.1" width="6.0" height="6.0"/><rect x="1320.3" y="180.6" width="6.0" height="6.0"/><rect x="1324.2" y="172.1" width="6.0" height="6.0"/><rect x="1325.9" y="184.3" width="6.0" height="6.0"/><rect x="1327.6" y="175.1" width="6.0" height="6.0"/><rect x="1331.1" y="171.6" width="6.0" height="6.0"/><rect x="1334.5" y="172.1" width="6.0" height="6.0"/><rect x="1335.5" y="176.5" width="6.0" height="6.0"/><rect x="1338.4" y="173.1" width="6.0" height="6.0"/><rect x="1339.4" y="176.5" width="6.0" height="6.0"/><rect x="1341.8" y="180.4" width="6.0" height="6.0"/><rect x="1344.2" y="175.5" width="6.0" height="6.0"/><rect x="1345.2" y="169.7" width="6.0" height="6.0"/><rect x="1346.7" y="166.3" width="6.0" height="6.0"/><rect x="1349.2" y="184.8" width="6.0" height="6.0"/><rect x="1350.1" y="164.8" width="6.0" height="6.0"/><rect x="1351.6" y="178" width="6.0" height="6.0"/><rect x="1352.1" y="171.6" width="6.0" height="6.0"/><rect x="1356" y="165.3" width="6.0" height="6.0"/><rect x="1357.4" y="178.5" width="6.0" height="6.0"/><rect x="1357.4" y="172.6" width="6.0" height="6.0"/><rect x="1359.7" y="167.5" width="6.0" height="6.0"/></g><text class="t" transform="translate(1223.5,233.3) scale(0.925,1)" text-anchor="middle">0</text><text class="t" transform="translate(1296,233.3) scale(0.925,1)" text-anchor="middle">10</text><text class="t" transform="translate(1368.4,233.3) scale(0.925,1)" text-anchor="middle">20</text><text class="p" x="1356.5" y="26.2" text-anchor="middle">ж</text></g>
<g><rect x="1223.5" y="284.4" width="144.9" height="204" fill="none" stroke="#000" stroke-width="1.25"/><path d="M1223.5,335.4h7.3M1223.5,386.4h7.3M1223.5,437.4h7.3M1271.8,488.4v-7.5M1320.1,488.4v-7.5" stroke="#000" stroke-width="1.15" fill="none"/><path fill="none" stroke="#0c9edc" stroke-width="3.1" stroke-linecap="round" d="M1269,339C1269.8,341.6 1272.3,353.2 1274,354.7C1275.7,356.1 1277.2,345 1279,347.7C1280.8,350.4 1280.5,364.9 1284.5,370.8C1288.5,376.7 1297,379.6 1303.3,382.8C1309.6,386 1315.9,388.4 1322.5,390C1329.1,391.6 1339.3,392.2 1342.7,392.7"/><g fill="#0c9edc" stroke="#06425f" stroke-width="0.6"><circle cx="1269" cy="339" r="3.5"/><circle cx="1274" cy="354.7" r="3.5"/><circle cx="1279" cy="347.7" r="3.5"/><circle cx="1284.5" cy="370.8" r="3.5"/><circle cx="1303.3" cy="382.8" r="3.5"/><circle cx="1322.5" cy="390" r="3.5"/><circle cx="1342.7" cy="392.7" r="3.5"/></g><path fill="none" stroke="#e30613" stroke-width="3.1" stroke-linejoin="round" stroke-linecap="round" d="M1264.5,354L1269.7,355.7L1275.1,370.1L1280.1,361.4L1283.6,378.7C1291.5,373.5 1300,371.3 1302.8,376.2C1310,385 1319,447 1323.5,453.2C1326,459.5 1333.5,454.5 1342.7,448.2"/><g fill="#e30613" stroke="#7a0a10" stroke-width="0.7"><rect x="1261.3" y="350.8" width="6.4" height="6.4"/><rect x="1266.5" y="352.5" width="6.4" height="6.4"/><rect x="1271.9" y="366.9" width="6.4" height="6.4"/><rect x="1276.9" y="358.2" width="6.4" height="6.4"/><rect x="1280.4" y="375.5" width="6.4" height="6.4"/><rect x="1299.6" y="373" width="6.4" height="6.4"/><rect x="1320.3" y="450" width="6.4" height="6.4"/><rect x="1339.5" y="445" width="6.4" height="6.4"/></g><text class="t" transform="translate(1223.5,510.9) scale(0.925,1)" text-anchor="middle">1750</text><text class="t" transform="translate(1271.8,510.9) scale(0.925,1)" text-anchor="middle">1800</text><text class="t" transform="translate(1320.1,510.9) scale(0.925,1)" text-anchor="middle">1850</text><text class="t" transform="translate(1368.4,510.9) scale(0.925,1)" text-anchor="middle">1900</text><text class="p" x="1356.5" y="304.2" text-anchor="middle">ж<tspan dx="-1">′</tspan></text></g>
<text class="t" transform="translate(48.2,12.8) scale(0.925,1)" text-anchor="end">9</text>
<text class="t" transform="translate(48.2,63.8) scale(0.925,1)" text-anchor="end">8</text>
<text class="t" transform="translate(48.2,114.9) scale(0.925,1)" text-anchor="end">7</text>
<text class="t" transform="translate(48.2,165.9) scale(0.925,1)" text-anchor="end">6</text>
<text class="t" transform="translate(48.2,216.9) scale(0.925,1)" text-anchor="end">5</text>
<text class="t" transform="translate(48.2,290.8) scale(0.925,1)" text-anchor="end">9</text>
<text class="t" transform="translate(48.2,341.8) scale(0.925,1)" text-anchor="end">8</text>
<text class="t" transform="translate(48.2,392.8) scale(0.925,1)" text-anchor="end">7</text>
<text class="t" transform="translate(48.2,443.8) scale(0.925,1)" text-anchor="end">6</text>
<text class="t" transform="translate(48.2,494.8) scale(0.925,1)" text-anchor="end">5</text>
<text class="a" transform="translate(712.6,264.8) scale(0.955,1)" text-anchor="middle">Время 10<tspan dy="-11.3" font-size="12">3</tspan><tspan dy="11.3">, с</tspan></text>
<text class="a" transform="translate(713.2,542.9) scale(0.948,1)" text-anchor="middle">Температура, К</text>
<text class="y" transform="translate(20,109.3) rotate(-90) scale(1.02,1)" text-anchor="middle"><tspan font-style="italic">ν</tspan>·10<tspan dy="-11.3" font-size="11.5">7</tspan><tspan dy="11.3">, м</tspan><tspan dy="-11.3" font-size="11.5">2</tspan><tspan dy="11.3">/с</tspan></text>
<text class="y" transform="translate(20,386.1) rotate(-90) scale(1.02,1)" text-anchor="middle"><tspan font-style="italic">ν</tspan>·10<tspan dy="-11.3" font-size="11.5">7</tspan><tspan dy="11.3">, м</tspan><tspan dy="-11.3" font-size="11.5">2</tspan><tspan dy="11.3">/с</tspan></text>
</svg>
</body></html>
